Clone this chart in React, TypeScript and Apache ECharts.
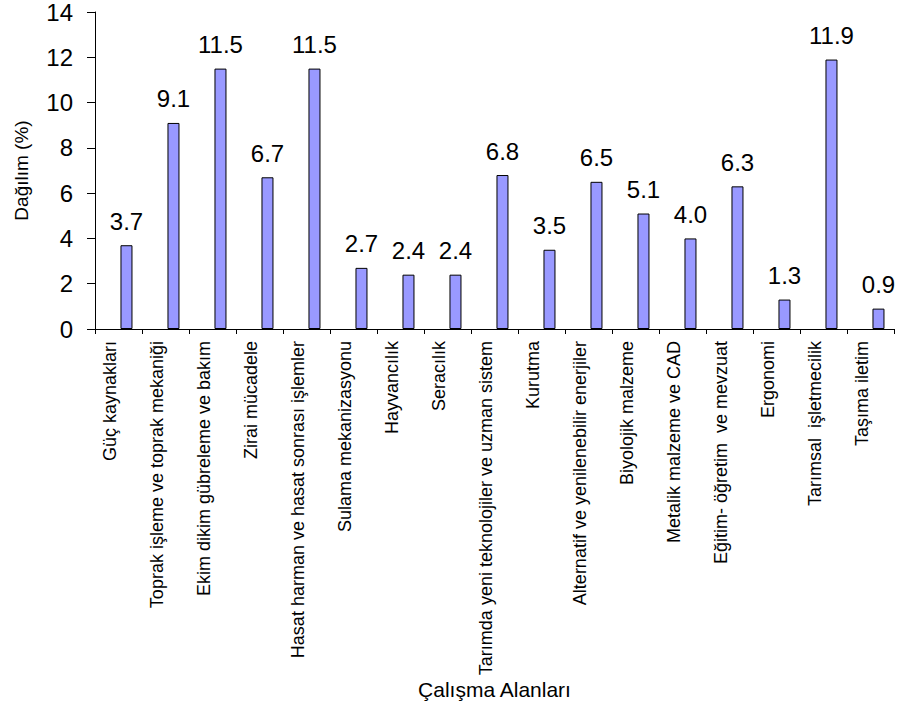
import React, { useEffect, useRef } from "react";
import * as echarts from "echarts";

const categories = [
  "Güç kaynakları",
  "Toprak işleme ve toprak mekaniği",
  "Ekim dikim gübreleme ve bakım",
  "Zirai mücadele",
  "Hasat harman ve hasat sonrası işlemler",
  "Sulama mekanizasyonu",
  "Hayvancılık",
  "Seracılık",
  "Tarımda yeni teknolojiler ve uzman sistem",
  "Kurutma",
  "Alternatif ve yenilenebilir enerjiler",
  "Biyolojik malzeme",
  "Metalik malzeme ve CAD",
  "Eğitim- öğretim  ve mevzuat",
  "Ergonomi",
  "Tarımsal  işletmecilik",
  "Taşıma iletim",
];

const values = [3.7, 9.1, 11.5, 6.7, 11.5, 2.7, 2.4, 2.4, 6.8, 3.5, 6.5, 5.1, 4.0, 6.3, 1.3, 11.9, 0.9];

const yTicks = { min: 0, max: 14, interval: 2 };

const FONT = "'Liberation Sans', Arial, sans-serif";

export default function App() {
  const ref = useRef<HTMLDivElement>(null);

  useEffect(() => {
    document.body.style.margin = "0";
    if (!ref.current) return;
    const chart = echarts.init(ref.current, null, { renderer: "svg" });
    chart.setOption({
      animation: false,
      backgroundColor: "#ffffff",
      grid: { left: 95, right: 7, top: 12, bottom: 376, containLabel: false },
      xAxis: {
        type: "category",
        data: categories,
        boundaryGap: true,
        name: "Çalışma Alanları",
        nameLocation: "middle",
        nameGap: 343,
        nameTextStyle: { fontFamily: FONT, fontSize: 21, color: "#000" },
        axisLine: { lineStyle: { color: "#000", width: 1 } },
        axisTick: { show: true, length: 5, lineStyle: { color: "#000" } },
        axisLabel: {
          interval: 0,
          rotate: 90,
          margin: 12,
          verticalAlign: "bottom",
          fontFamily: FONT,
          fontSize: 18,
          color: "#000",
        },
        splitLine: { show: false },
      },
      yAxis: {
        type: "value",
        min: yTicks.min,
        max: yTicks.max,
        interval: yTicks.interval,
        name: "Dağılım (%)",
        nameLocation: "middle",
        nameGap: 64,
        nameRotate: 90,
        nameTextStyle: { fontFamily: FONT, fontSize: 19, color: "#000" },
        axisLine: { show: true, lineStyle: { color: "#000", width: 1 } },
        axisTick: { show: true, length: 8, lineStyle: { color: "#000" } },
        axisLabel: { fontFamily: FONT, fontSize: 24, color: "#000", margin: 22 },
        splitLine: { show: false },
      },
      series: [
        {
          type: "bar",
          data: values.map(() => "-"),
          barWidth: 12,
          barGap: "33%",
          silent: true,
        },
        {
          type: "bar",
          data: values,
          barWidth: 12,
          barGap: "33%",
          itemStyle: { color: "#9999FF", borderColor: "#000", borderWidth: 1 },
          label: {
            show: true,
            position: "top",
            distance: 12,
            fontFamily: FONT,
            fontSize: 24,
            color: "#000",
            formatter: (p: any) => Number(p.value).toFixed(1),
          },
        },
      ],
    });
    return () => chart.dispose();
  }, []);

  return (
    <div
      ref={ref}
      style={{ position: "absolute", left: 0, top: 0, width: 901, height: 705 }}
    />
  );
}
